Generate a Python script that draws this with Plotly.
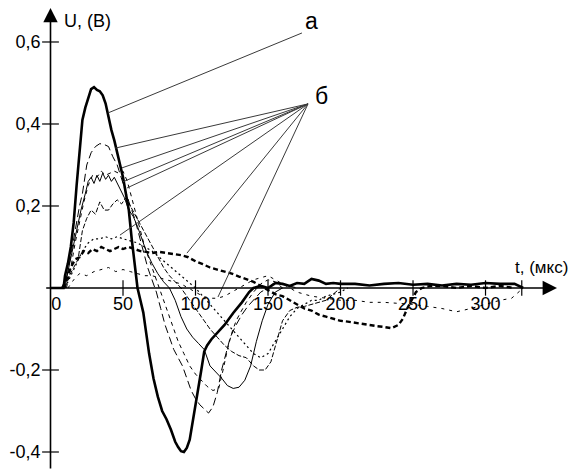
import plotly.graph_objects as go

# ---------------- data ----------------
# curve "а" (thick solid)
t_a = [0, 9, 10, 12, 14, 16, 18, 20, 22, 24, 26, 28, 30, 32, 34, 36, 38, 40, 42, 44, 46, 48, 50, 52, 54, 56, 58,
       60, 62, 64, 66, 68, 71, 74, 77, 80, 83, 86, 88, 90, 92, 94, 96, 98, 100, 102, 104, 106, 108, 111, 115, 120,
       126, 132, 137, 140, 145, 150, 155, 160, 165, 170, 175, 180, 185, 190, 195, 200, 210, 220, 230, 240, 250,
       260, 270, 280, 290, 300, 310, 320, 326]
u_a = [0, 0, 0.03, 0.06, 0.10, 0.16, 0.25, 0.33, 0.41, 0.44, 0.465, 0.485, 0.49, 0.483, 0.48, 0.47, 0.45, 0.415,
       0.385, 0.36, 0.33, 0.30, 0.27, 0.23, 0.19, 0.12, 0.06, 0.0, -0.03, -0.06, -0.11, -0.16, -0.22, -0.265,
       -0.30, -0.32, -0.345, -0.375, -0.388, -0.398, -0.40, -0.39, -0.37, -0.33, -0.29, -0.24, -0.2, -0.155, -0.14,
       -0.125, -0.11, -0.09, -0.061, -0.035, -0.01, 0.0, 0.005, 0.0, 0.012, 0.01, 0.005, 0.012, 0.01, 0.022, 0.018,
       0.01, 0.012, 0.01, 0.01, 0.006, 0.01, 0.012, 0.008, 0.01, 0.006, 0.01, 0.008, 0.012, 0.01, 0.01, 0.0]

# curves "б"
t_b1 = [10, 12, 14, 16, 18, 20, 22, 25, 28, 31, 34, 37, 40, 43, 46, 49, 52, 55, 58, 61, 64, 67, 70, 73, 76, 79,
        82, 85, 88, 91, 94, 97, 100, 103, 106, 109, 112, 115, 118, 121, 124, 128, 132, 136, 140, 145, 150, 155,
        160, 170]
u_b1 = [0, 0.04, 0.08, 0.13, 0.17, 0.20, 0.23, 0.30, 0.33, 0.345, 0.352, 0.35, 0.345, 0.32, 0.30, 0.265, 0.235,
        0.20, 0.17, 0.13, 0.09, 0.05, 0.02, -0.01, -0.05, -0.09, -0.12, -0.15, -0.17, -0.19, -0.22, -0.25, -0.27,
        -0.285, -0.295, -0.305, -0.29, -0.255, -0.2, -0.16, -0.12, -0.09, -0.065, -0.045, -0.03, -0.01, 0.0, 0.015,
        0.01, 0.0]

t_b2 = [11, 14, 17, 20, 23, 26, 29, 32, 35, 38, 41, 44, 47, 50, 53, 56, 59, 62, 65, 68, 71, 74, 77, 80, 84, 88,
        92, 96, 100, 104, 108, 112, 116, 119, 122, 125, 128, 131, 135, 140, 145, 150, 155, 160]
u_b2 = [0, 0.05, 0.11, 0.16, 0.21, 0.25, 0.275, 0.27, 0.285, 0.275, 0.28, 0.285, 0.28, 0.285, 0.26, 0.22, 0.18,
        0.14, 0.10, 0.07, 0.04, 0.01, -0.02, -0.05, -0.09, -0.13, -0.16, -0.19, -0.21, -0.225, -0.24, -0.25,
        -0.245, -0.2, -0.15, -0.11, -0.08, -0.06, -0.035, -0.01, 0.01, 0.02, 0.015, 0.0]

t_b3 = [9, 12, 15, 18, 21, 24, 26, 28, 30, 32, 34, 36, 38, 40, 42, 44, 46, 48, 51, 54, 57, 60, 63, 66, 70, 74,
        78, 82, 86, 90, 94, 98, 102, 106, 110, 114, 118, 122, 126, 130, 134, 138, 142, 146, 150, 155, 160]
u_b3 = [0, 0.04, 0.09, 0.14, 0.19, 0.23, 0.26, 0.27, 0.255, 0.275, 0.26, 0.28, 0.265, 0.275, 0.26, 0.27, 0.255,
        0.24, 0.22, 0.19, 0.175, 0.15, 0.12, 0.09, 0.06, 0.035, 0.015, 0.0, -0.03, -0.07, -0.10, -0.12, -0.135,
        -0.15, -0.19, -0.205, -0.22, -0.238, -0.245, -0.242, -0.225, -0.19, -0.13, -0.08, -0.04, -0.01, 0.0]

t_b4 = [10, 13, 16, 19, 22, 25, 28, 31, 34, 37, 40, 43, 46, 49, 52, 55, 58, 61, 64, 67, 70, 74, 78, 82, 86, 90,
        94, 98, 102, 106, 110, 115, 120, 125, 130, 135, 140, 144, 148, 152, 156, 160, 165, 170, 175, 180, 185,
        190, 195, 200]
u_b4 = [0, 0.03, 0.05, 0.07, 0.14, 0.17, 0.19, 0.18, 0.21, 0.19, 0.19, 0.205, 0.215, 0.205, 0.22, 0.2, 0.18,
        0.16, 0.14, 0.12, 0.10, 0.075, 0.05, 0.03, 0.015, 0.0, -0.02, -0.04, -0.06, -0.08, -0.10, -0.12, -0.14,
        -0.155, -0.165, -0.17, -0.19, -0.2, -0.2, -0.18, -0.13, -0.08, -0.055, -0.047, -0.045, -0.04, -0.035,
        -0.03, -0.015, 0.0]

t_b5 = [10, 14, 18, 22, 26, 30, 34, 38, 42, 46, 50, 55, 60, 65, 70, 75, 80, 85, 90, 95, 100, 105, 110, 115, 120,
        125, 130, 135, 140, 145, 150, 155, 160, 165, 170, 175, 180, 185, 190, 195, 200, 205]
u_b5 = [0, 0.03, 0.06, 0.09, 0.11, 0.12, 0.12, 0.125, 0.12, 0.125, 0.12, 0.115, 0.11, 0.1, 0.09, 0.075, 0.06,
        0.045, 0.03, 0.015, 0.0, -0.02, -0.04, -0.06, -0.08, -0.1, -0.12, -0.14, -0.16, -0.17, -0.16, -0.13, -0.1,
        -0.07, -0.05, -0.04, -0.03, -0.03, -0.02, -0.015, -0.01, 0.0]

t_b6 = [8, 11, 14, 17, 20, 23, 26, 29, 32, 35, 38, 41, 44, 47, 50, 54, 58, 62, 66, 70, 75, 80, 85, 90, 95, 100,
        105, 110, 115, 120, 125, 130, 135, 140, 145, 150, 155, 160, 165, 170, 175, 180, 185, 190, 195, 200, 205,
        210, 215, 220, 225, 230, 235, 240, 243, 246, 249, 252, 256, 262, 270, 280, 290, 300, 310, 320]
u_b6 = [0, 0.02, 0.05, 0.07, 0.075, 0.09, 0.085, 0.095, 0.09, 0.1, 0.095, 0.09, 0.095, 0.1, 0.095, 0.1, 0.095,
        0.09, 0.088, 0.085, 0.088, 0.085, 0.082, 0.08, 0.075, 0.065, 0.058, 0.05, 0.045, 0.04, 0.035, 0.028,
        0.022, 0.015, 0.005, -0.005, -0.015, -0.02, -0.03, -0.04, -0.05, -0.055, -0.065, -0.07, -0.075, -0.08,
        -0.082, -0.085, -0.088, -0.09, -0.093, -0.095, -0.098, -0.09, -0.075, -0.05, -0.03, -0.01, 0.0, 0.005,
        0.005, 0.0, 0.005, 0.0, 0.005, 0.0]

t_b7 = [12, 16, 20, 25, 30, 35, 40, 45, 50, 55, 60, 65, 70, 75, 80, 85, 90, 95, 100, 105, 110, 115, 120, 125,
        130, 135, 140, 145, 150, 155, 160, 165, 170, 180, 190, 200, 210, 220, 230, 240, 250, 260, 270, 280, 290,
        300, 310, 318, 326]
u_b7 = [0, 0.02, 0.035, 0.03, 0.04, 0.045, 0.05, 0.04, 0.045, 0.04, 0.035, 0.03, 0.03, 0.025, 0.02, 0.015, 0.01,
        0.0, -0.01, -0.02, -0.025, -0.025, -0.02, -0.01, 0.0, 0.01, 0.02, 0.025, 0.03, 0.02, 0.01, 0.0, -0.01,
        -0.02, -0.025, -0.03, -0.03, -0.035, -0.035, -0.037, -0.04, -0.045, -0.05, -0.058, -0.05, -0.04, -0.03,
        -0.025, 0.0]

# axis ticks and labels
x_tick_vals = [50, 100, 150, 200, 250, 300, 325]
x_label_vals = [4, 50, 100, 150, 200, 250, 300]
x_label_text = ["0", "50", "100", "150", "200", "250", "300"]
y_tick_vals = [0.6, 0.4, 0.2, -0.2, -0.4]
y_label_text = ["0,6", "0,4", "0,2", "-0,2", "-0,4"]

# leader-line targets (points on the curves)
a_target = (39.7, 0.427)
b_targets = [(44.5, 0.341), (49.3, 0.293), (50.0, 0.259), (52.8, 0.244), (47.9, 0.129), (94.1, 0.085),
             (115.5, -0.022)]
a_origin = (173.4, 0.622)
b_origin = (177.6, 0.449)

# ---------------- figure ----------------
X_RANGE = [-34.83, 362.4]
Y_RANGE = [-0.4439, 0.7024]
FONT = "Liberation Sans, Arial, sans-serif"

fig = go.Figure()

styles = [
    (t_b7, u_b7, 1.0, "3px,5px"),
    (t_b6, u_b6, 2.4, "5px,3px"),
    (t_b5, u_b5, 1.2, "2px,3px"),
    (t_b4, u_b4, 1.0, "5px,2px"),
    (t_b3, u_b3, 1.0, "solid"),
    (t_b2, u_b2, 1.0, "4px,4px"),
    (t_b1, u_b1, 1.0, "8px,4px"),
    (t_a, u_a, 2.6, "solid"),
]
for tx, ux, w, d in styles:
    fig.add_trace(go.Scatter(x=tx, y=ux, mode="lines",
                             line=dict(color="black", width=w, dash=d),
                             hoverinfo="skip"))

# crossing tick marks
fig.add_trace(go.Scatter(x=x_tick_vals, y=[0] * len(x_tick_vals), mode="markers",
                         marker=dict(symbol="line-ns", size=11, line=dict(color="black", width=1.2)),
                         hoverinfo="skip"))
fig.add_trace(go.Scatter(x=[0] * len(y_tick_vals), y=y_tick_vals, mode="markers",
                         marker=dict(symbol="line-ew", size=12, line=dict(color="black", width=1.2)),
                         hoverinfo="skip"))

# leader lines
fig.add_shape(type="line", xref="x", yref="y", x0=a_origin[0], y0=a_origin[1],
              x1=a_target[0], y1=a_target[1], line=dict(color="#3a3a3a", width=1))
for bx, by in b_targets:
    fig.add_shape(type="line", xref="x", yref="y", x0=b_origin[0], y0=b_origin[1],
                  x1=bx, y1=by, line=dict(color="#3a3a3a", width=1))

# axes with arrows
fig.add_annotation(x=349.3, y=0, ax=-4, ay=0, xref="x", yref="y", axref="x", ayref="y",
                   text="", showarrow=True, arrowhead=2, arrowsize=1.8, arrowwidth=1.6,
                   arrowcolor="black", standoff=0)
fig.add_annotation(x=0, y=0.683, ax=0, ay=Y_RANGE[0], xref="x", yref="y", axref="x", ayref="y",
                   text="", showarrow=True, arrowhead=2, arrowsize=1.8, arrowwidth=1.6,
                   arrowcolor="black", standoff=0)

# axis titles and labels
fig.add_annotation(x=7.9, y=0.65, xref="x", yref="y", text="U, (В)", showarrow=False,
                   xanchor="left", yanchor="middle", font=dict(family=FONT, size=18, color="black"))
fig.add_annotation(x=319.0, y=0.049, xref="x", yref="y", text="t, (мкс)", showarrow=False,
                   xanchor="left", yanchor="middle", font=dict(family=FONT, size=17, color="black"))
fig.add_annotation(x=180.3, y=0.652, xref="x", yref="y", text="а", showarrow=False,
                   xanchor="center", yanchor="middle", font=dict(family=FONT, size=23, color="black"))
fig.add_annotation(x=186.6, y=0.468, xref="x", yref="y", text="б", showarrow=False,
                   xanchor="center", yanchor="middle", font=dict(family=FONT, size=23, color="black"))

fig.update_layout(
    width=576, height=470, autosize=False,
    margin=dict(l=0, r=0, t=0, b=0),
    paper_bgcolor="white", plot_bgcolor="white",
    showlegend=False, hovermode=False,
    xaxis=dict(range=X_RANGE, showgrid=False, zeroline=False, showline=False,
               tickmode="array", tickvals=x_label_vals, ticktext=x_label_text, ticks="",
               anchor="free", position=(0 - Y_RANGE[0]) / (Y_RANGE[1] - Y_RANGE[0]),
               ticklabelstandoff=3, automargin=False,
               tickfont=dict(family=FONT, size=18, color="black"), fixedrange=True),
    yaxis=dict(range=Y_RANGE, showgrid=False, zeroline=False, showline=False,
               tickmode="array", tickvals=y_tick_vals, ticktext=y_label_text, ticks="",
               anchor="free", position=(0 - X_RANGE[0]) / (X_RANGE[1] - X_RANGE[0]),
               ticklabelstandoff=10, automargin=False,
               tickfont=dict(family=FONT, size=18, color="black"), fixedrange=True),
)

fig.write_html("out.html", config={"displayModeBar": False},
               post_script="document.body.style.margin='0px';")
